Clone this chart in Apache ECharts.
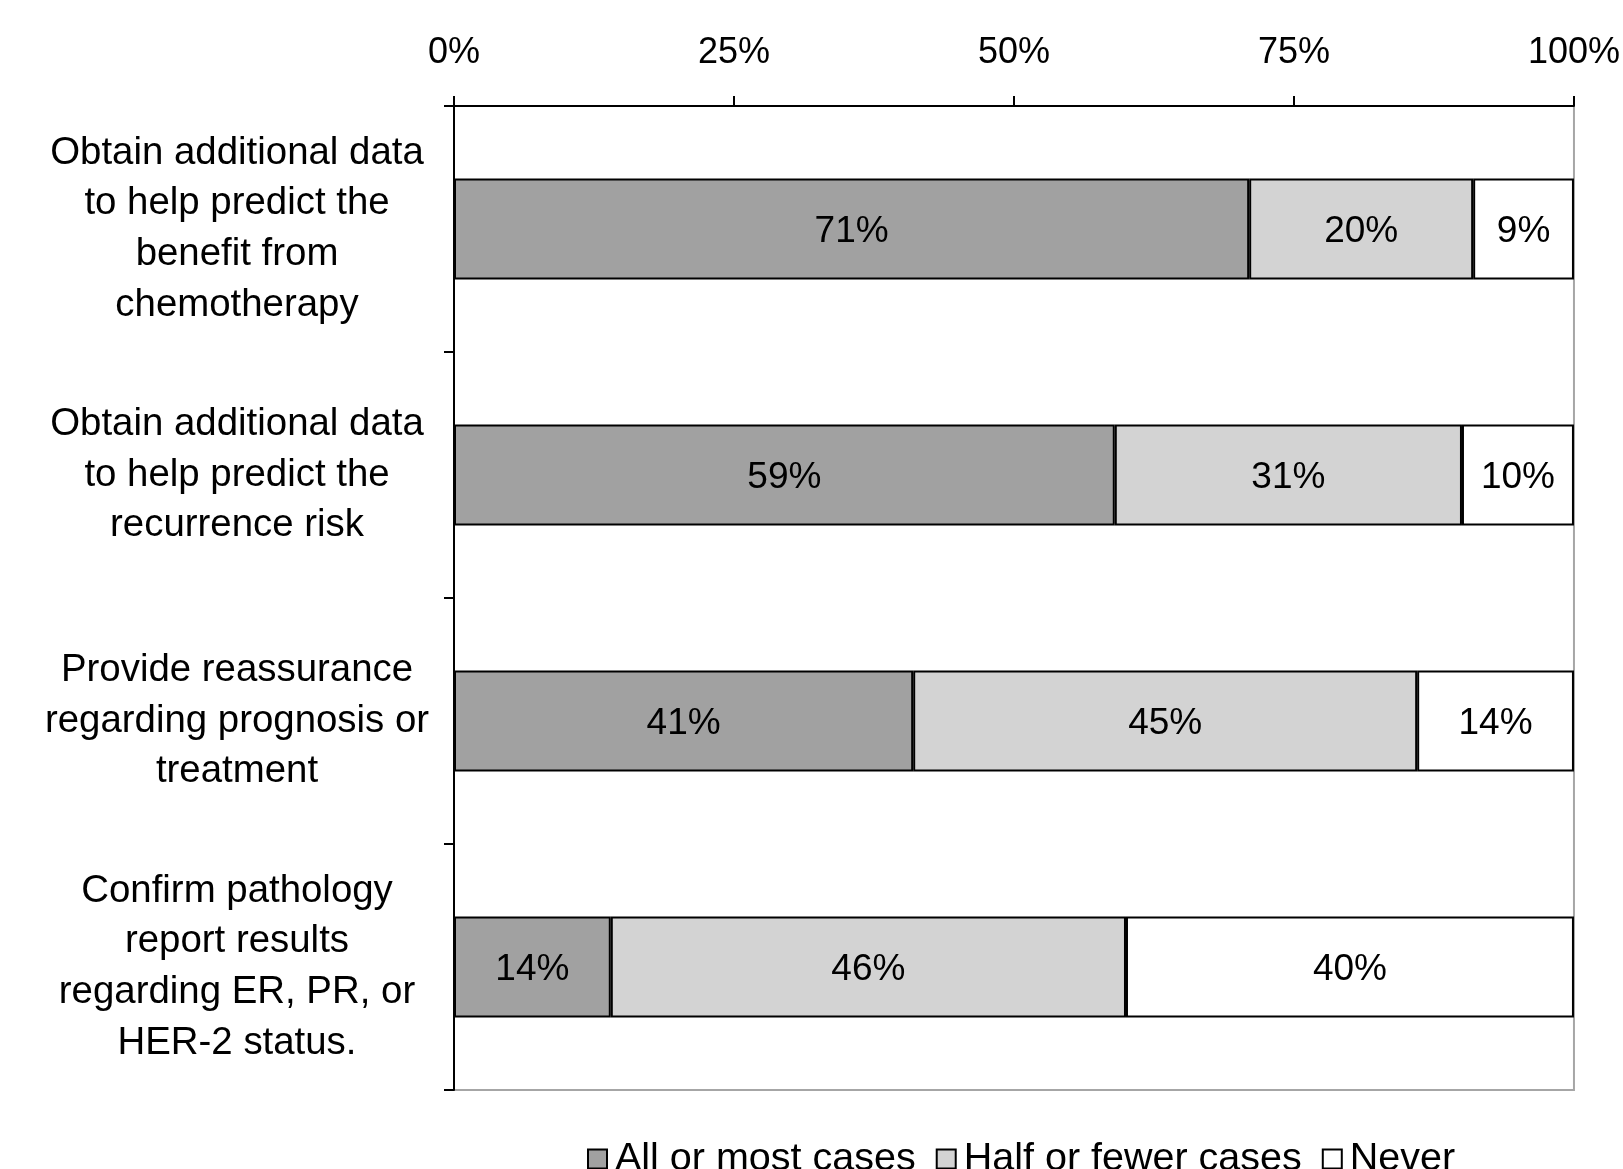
<!DOCTYPE html>
<html>
<head>
<meta charset="utf-8">
<script src="https://cdn.jsdelivr.net/npm/echarts@6/dist/echarts.min.js"></script>
<style>
  html, body { margin: 0; padding: 0; background: #fff; }
  #chart { width: 1623px; height: 1169px; }
</style>
</head>
<body>
<div id="chart"></div>
<script>
// Reasons for ordering the test, one row per reason
const categories = [
  'Obtain additional data\nto help predict the\nbenefit from\nchemotherapy',
  'Obtain additional data\nto help predict the\nrecurrence risk',
  'Provide reassurance\nregarding prognosis or\ntreatment',
  'Confirm pathology\nreport results\nregarding ER, PR, or\nHER-2 status.'
];

// Share of respondents (%) for each response
const allOrMost = [71, 59, 41, 14];
const halfOrFewer = [20, 31, 45, 46];
const never = [9, 10, 14, 40];

const seriesNames = ['All or most cases', 'Half or fewer cases', 'Never'];
const seriesColors = ['#a1a1a1', '#d3d3d3', '#ffffff'];

const FONT = "'Liberation Sans', Arial, sans-serif";

const chart = echarts.init(document.getElementById('chart'), null, { renderer: 'canvas' });

function barSeries(name, values, color) {
  return {
    name: name,
    type: 'bar',
    stack: 'total',
    barWidth: '41%',
    data: values,
    itemStyle: { color: color, borderColor: '#000', borderWidth: 2 },
    label: {
      show: true,
      position: 'inside',
      offset: [0, 3],
      formatter: '{c}%',
      color: '#000',
      fontFamily: FONT,
      fontSize: 37
    },
    emphasis: { disabled: true }
  };
}

chart.setOption({
  backgroundColor: '#fff',
  animation: false,
  grid: {
    left: 454, right: 46, top: 106, bottom: 79,
    show: true, borderColor: '#a6a6a6', borderWidth: 2, backgroundColor: 'transparent'
  },
  legend: {
    data: seriesNames,
    left: 582,
    top: 1134,
    icon: 'rect',
    itemWidth: 19,
    itemHeight: 19,
    itemGap: 20,
    textStyle: { color: '#000', fontFamily: FONT, fontSize: 39.5, lineHeight: 40, padding: [0, 0, 0, 3] }
  },
  xAxis: {
    type: 'value',
    position: 'top',
    min: 0, max: 100, interval: 25,
    axisLine: { show: true, lineStyle: { color: '#000', width: 2 } },
    axisTick: { show: true, inside: false, length: 10, lineStyle: { color: '#000', width: 2 } },
    splitLine: { show: false },
    axisLabel: { formatter: '{value}%', color: '#000', fontFamily: FONT, fontSize: 36, margin: 35 }
  },
  yAxis: {
    type: 'category',
    inverse: true,
    data: categories,
    axisLine: { show: true, lineStyle: { color: '#000', width: 2 } },
    axisTick: { show: true, length: 10, lineStyle: { color: '#000', width: 2 } },
    axisLabel: {
      color: '#000', fontFamily: FONT, fontSize: 38.4, lineHeight: 50.7,
      align: 'center', margin: 217, padding: [6, 0, 0, 0]
    }
  },
  series: [
    barSeries(seriesNames[0], allOrMost, seriesColors[0]),
    barSeries(seriesNames[1], halfOrFewer, seriesColors[1]),
    barSeries(seriesNames[2], never, seriesColors[2])
  ]
});
</script>
</body>
</html>
